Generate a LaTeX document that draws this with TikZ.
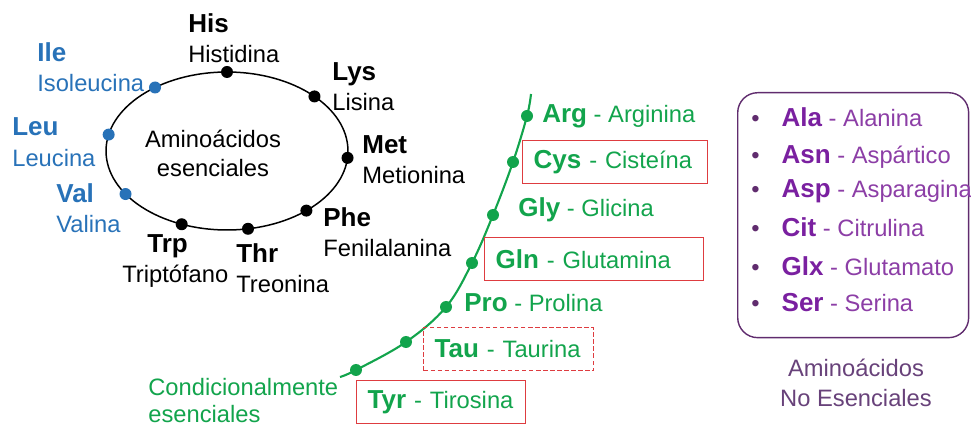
\documentclass[tikz,border=0pt]{standalone}
\usepackage{fontspec}
\setmainfont{Liberation Sans}
\usetikzlibrary{shapes.geometric,calc}
\definecolor{essblue}{RGB}{40,114,184}
\definecolor{condgreen}{RGB}{18,164,76}
\definecolor{boxred}{RGB}{222,60,64}
\definecolor{nepurple}{RGB}{122,32,160}
\definecolor{nelight}{RGB}{140,62,166}
\definecolor{neframe}{RGB}{96,44,110}
\definecolor{necap}{RGB}{104,66,122}
\newcommand{\amcode}[1]{{\fontsize{14.8}{16}\selectfont\bfseries #1}}
\newcommand{\nebullet}{\textcolor{neframe}{\textbullet}\hspace{0.44cm}}
\begin{document}
\begin{tikzpicture}[
  x=0.02cm,y=-0.02cm,
  aaname/.style={font=\fontsize{13.5}{16}\selectfont, anchor=base west, inner sep=0pt},
  aacode/.style={aaname, font=\fontsize{14.8}{16}\selectfont\bfseries},
  bdot/.style={circle, fill=black, inner sep=0pt, minimum size=0.24cm},
  ldot/.style={bdot, fill=essblue},
  gdot/.style={bdot, fill=condgreen},
  gitem/.style={aaname, text=condgreen},
  gbox/.style={draw=boxred, line width=0.75pt, anchor=north west, minimum height=0.86cm,
               inner xsep=0.22cm, inner ysep=0pt, align=left, text=condgreen,
               font=\fontsize{13.5}{16}\selectfont},
  dashbox/.style={gbox, dash pattern=on 2.5pt off 1.5pt},
  gline/.style={draw=condgreen, line width=1.2pt},
  neitem/.style={aaname, text=nelight}
]
  \useasboundingbox (0,0) rectangle (971,425);

  % essential amino acids
  \node[draw, line width=0.85pt, ellipse, minimum width=4.84cm, minimum height=3.16cm,
        inner sep=0pt, outer sep=0pt] (ess) at (227,151) {};
  \node[align=center, inner sep=0pt, anchor=north, font=\fontsize{13.5}{16.4}\selectfont]
    (esslabel) at (213,130) {Aminoácidos\\esenciales};

  \node[bdot] (dHis) at ($(ess.center)+(-90:121 and 79)$) {};
  \node[bdot] (dLys) at ($(ess.center)+(-43.7:121 and 79)$) {};
  \node[bdot] (dMet) at ($(ess.center)+(5:121 and 79)$) {};
  \node[bdot] (dPhe) at ($(ess.center)+(49:121 and 79)$) {};
  \node[bdot] (dThr) at ($(ess.center)+(80:121 and 79)$) {};
  \node[bdot] (dTrp) at ($(ess.center)+(112:121 and 79)$) {};
  \node[ldot] (dVal) at ($(ess.center)+(147:121 and 79)$) {};
  \node[ldot] (dLeu) at ($(ess.center)+(192:121 and 79)$) {};
  \node[ldot] (dIle) at ($(ess.center)+(233.5:121 and 79)$) {};

  \node[aacode] (cHis) at (188,33) {His};
  \node[aaname] (nHis) at (188,63) {Histidina};
  \node[aacode] (cLys) at (332,81) {Lys};
  \node[aaname] (nLys) at (332,111) {Lisina};
  \node[aacode] (cMet) at (362,154) {Met};
  \node[aaname] (nMet) at (362,184) {Metionina};
  \node[aacode] (cPhe) at (323,227) {Phe};
  \node[aaname] (nPhe) at (323,257) {Fenilalanina};
  \node[aacode] (cThr) at (236,263) {Thr};
  \node[aaname] (nThr) at (236,293) {Treonina};
  \node[aacode] (cTrp) at (147,253) {Trp};
  \node[aaname] (nTrp) at (122,283) {Triptófano};
  \node[aacode, text=essblue] (cVal) at (56,203) {Val};
  \node[aaname, text=essblue] (nVal) at (56,233) {Valina};
  \node[aacode, text=essblue] (cLeu) at (12,136) {Leu};
  \node[aaname, text=essblue] (nLeu) at (12,167) {Leucina};
  \node[aacode, text=essblue] (cIle) at (37,62) {Ile};
  \node[aaname, text=essblue] (nIle) at (37,92) {Isoleucina};

  % conditionally essential
  \coordinate (gStart) at (340,377);
  \coordinate (gEnd) at (531,94);
  \node[gdot] (dTyr) at (356,370) {};
  \node[gdot] (dTau) at (406,342) {};
  \node[gdot] (dPro) at (446,307) {};
  \node[gdot] (dGln) at (472,263) {};
  \node[gdot] (dGly) at (493,215) {};
  \node[gdot] (dCys) at (513,162) {};
  \node[gdot] (dArg) at (527,116) {};
  \draw[gline] plot[smooth, tension=0.6] coordinates {(gStart) (dTyr.center) (dTau.center)
    (dPro.center) (dGln.center) (dGly.center) (dCys.center) (dArg.center) (gEnd)};

  \node[gitem] (arg) at (542,123) {\amcode{Arg} - Arginina};
  \node[gbox, minimum width=3.7cm, text width=3.26cm] (cys) at (522,140)
    {\amcode{Cys} - Cisteína};
  \node[gitem] (gly) at (518,217) {\amcode{Gly} - Glicina};
  \node[gbox, minimum width=4.38cm, text width=3.94cm] (gln) at (484,237)
    {\amcode{Gln} - Glutamina};
  \node[gitem] (pro) at (464,312) {\amcode{Pro} - Prolina};
  \node[dashbox, minimum width=3.4cm, text width=2.96cm] (tau) at (423,327)
    {\amcode{Tau} - Taurina};
  \node[gbox, minimum width=3.38cm, text width=2.94cm] (tyr) at (356,380)
    {\amcode{Tyr} - Tirosina};
  \node[gitem, anchor=north west, align=left, font=\fontsize{13.5}{15.3}\selectfont]
    (cond) at (148,378) {Condicionalmente\\esenciales};

  % non essential
  \node[draw=neframe, line width=0.8pt, rounded corners=0.4cm, anchor=north west,
        minimum width=4.62cm, minimum height=4.9cm] (nebox) at (737,92) {};
  \node[neitem] (ala) at (751,127) {\nebullet\textcolor{nepurple}{\amcode{Ala}} - Alanina};
  \node[neitem] (asn) at (751,164) {\nebullet\textcolor{nepurple}{\amcode{Asn}} - Aspártico};
  \node[neitem] (asp) at (751,198) {\nebullet\textcolor{nepurple}{\amcode{Asp}} - Asparagina};
  \node[neitem] (cit) at (751,237) {\nebullet\textcolor{nepurple}{\amcode{Cit}} - Citrulina};
  \node[neitem] (glx) at (751,276) {\nebullet\textcolor{nepurple}{\amcode{Glx}} - Glutamato};
  \node[neitem] (ser) at (751,312) {\nebullet\textcolor{nepurple}{\amcode{Ser}} - Serina};
  \node[align=center, text=necap, font=\fontsize{13.5}{17}\selectfont] (necap) at (856,383)
    {Aminoácidos\\No Esenciales};
\end{tikzpicture}
\end{document}
